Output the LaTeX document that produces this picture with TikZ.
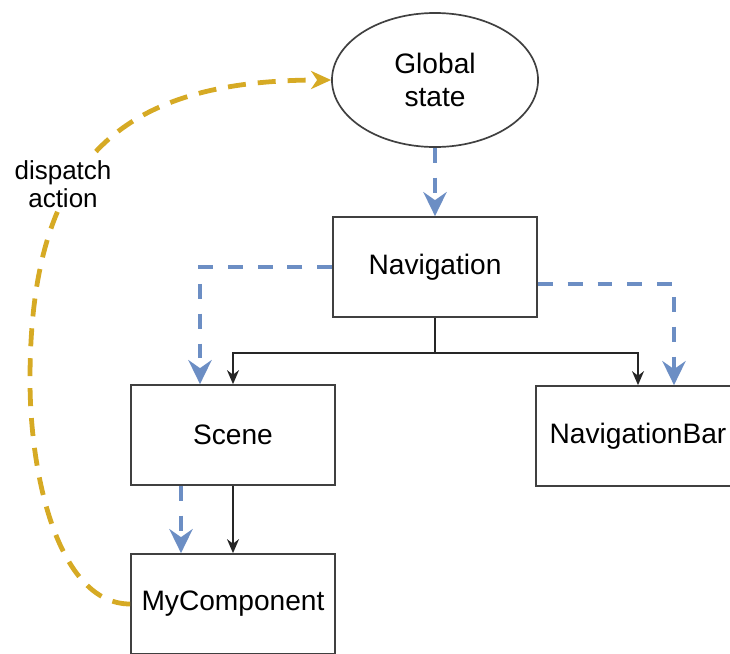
\documentclass[tikz,border=0pt]{standalone}
\usepackage{fontspec}
\setmainfont{Liberation Sans}
\usetikzlibrary{arrows.meta,calc,shapes.geometric}

\definecolor{flowblue}{RGB}{108,142,196}
\definecolor{actiongold}{RGB}{214,170,36}

\tikzset{
  box/.style={draw=black!75, line width=1.2pt, minimum width=5.1cm, minimum height=2.5cm,
    inner sep=0pt, font=\fontsize{20}{23}\selectfont},
  state/.style={ellipse, draw=black!75, line width=1.2pt, minimum width=5.15cm, minimum height=3.35cm,
    inner sep=0pt, align=center, font=\fontsize{20}{23}\selectfont},
  dataflow/.style={flowblue, line width=2.8pt, dash pattern=on 10.6pt off 10.6pt,
    -{Stealth[length=0.6cm, width=0.58cm, inset=0.2cm]}},
  link/.style={black!85, line width=1.2pt, -{Stealth[length=0.35cm, width=0.3cm]}},
  action/.style={actiongold, line width=3.4pt, dash pattern=on 12.8pt off 8.5pt,
    -{Stealth[length=0.5cm, width=0.45cm, inset=0.15cm]}},
}

\begin{document}
\begin{tikzpicture}[x=0.025cm, y=-0.025cm]
        \useasboundingbox (0,0) rectangle (730,653);

        % nodes
        \node[state] (global) at (435,80) {Global\\state};
        \node[box] (nav) at (435,267) {Navigation};
        \node[box] (scene) at (233,435) {Scene};
        \node[box] (navbar) at (638,436) {NavigationBar};
        \node[box] (mycomp) at (233,604) {MyComponent};

        % tree
        \coordinate (split) at ($(nav.south)+(0,35)$);
        \draw[black!85, line width=1.2pt] (nav.south) -- (split);
        \draw[link] (split) -| (scene.north);
        \draw[link] (split) -| (navbar.north);
        \draw[link] (scene.south) -- (mycomp.north);

        % state flow
        \draw[dataflow] (global.south) -- (nav.north);
        \draw[dataflow] (nav.west) -| ($(scene.north)+(-33,0)$);
        \draw[dataflow] ($(nav.east)+(0,17)$) -| ($(navbar.north)+(36,0)$);
        \draw[dataflow] ($(scene.south)+(-52,0)$) -- ($(mycomp.north)+(-52,0)$);

        % dispatch
        \coordinate (bend) at (30,380);
        \draw[action] (mycomp.west) .. controls (60,604) and (30,480) .. (bend)
          .. controls (30,160) and (120,80) .. (global.west);
        \node[fill=white, align=center, inner sep=2pt, font=\fontsize{18.5}{20}\selectfont] (dispatchlabel) at (63,184) {dispatch\\action};
\end{tikzpicture}
\end{document}
